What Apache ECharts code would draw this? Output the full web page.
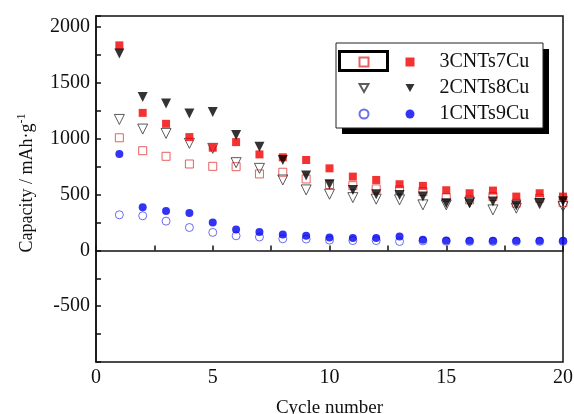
<!DOCTYPE html>
<html><head><meta charset="utf-8">
<script src="https://cdn.jsdelivr.net/npm/echarts@6/dist/echarts.min.js"></script>
<style>html,body{margin:0;padding:0;background:#fff}#c{width:574px;height:414px}</style>
</head><body><div id="c"></div>
<script>
const cycles = [1,2,3,4,5,6,7,8,9,10,11,12,13,14,15,16,17,18,19,20];
const seriesNames = ['3CNTs7Cu','2CNTs8Cu','1CNTs9Cu'];
// filled symbols
const cnt3Filled = [1837,1232,1134,1015,920,970,860,834,810,735,661,631,593,578,539,512,536,482,512,482];
const cnt2Filled = [1765,1375,1316,1227,1241,1033,929,810,670,593,542,503,497,482,423,423,438,402,423,440];
const cnt1Filled = [863,387,354,334,250,188,164,143,131,116,110,110,125,96,89,87,87,87,87,87];
// hollow symbols
const cnt3Hollow = [1009,893,843,774,753,750,685,700,640,590,580,551,542,527,473,453,482,423,467,430];
const cnt2Hollow = [1173,1087,1048,959,914,786,735,631,542,503,473,459,453,408,408,430,363,378,420,393];
const cnt1Hollow = [319,310,262,205,161,131,120,104,102,92,88,88,80,85,82,80,80,80,80,80];
const xTickLabels = [0,5,10,15,20];
const yTickLabels = [-500,0,500,1000,1500,2000];

const FONT = "'Liberation Serif','Times New Roman',serif";
const DOWN_TRI = 'path://M0,0 L10,0 L5,9 Z';
const pts = arr => cycles.map((c,i)=>[c, arr[i]]);
const hollowNames = seriesNames.map(n => n + ' (hollow)');
const legendItems = names => names.map((n,i) => i === 1 ? {name:n, icon:DOWN_TRI} : {name:n});

const chart = echarts.init(document.getElementById('c'), null, {renderer:'canvas'});
const hollow = (name, data, symbol, color, size, rot) => ({
  name, type:'scatter', data: pts(data), symbol, symbolSize: size, symbolRotate: rot||0,
  itemStyle:{color:'rgba(255,255,255,0)', borderColor:color, borderWidth:1}, z:2
});
const filled = (name, data, symbol, color, size, rot) => ({
  name, type:'scatter', data: pts(data), symbol, symbolSize: size, symbolRotate: rot||0,
  itemStyle:{color:color}, z:3
});

chart.setOption({
  animation:false,
  backgroundColor:'#fff',
  grid:{left:96, right:11, top:16, bottom:52, show:true, borderColor:'#111', borderWidth:1.5, backgroundColor:'transparent', outerBoundsMode:'none'},
  xAxis:{
    type:'value', min:0, max:20, interval:2.5,
    name:'Cycle number', nameLocation:'middle', nameGap:37,
    nameTextStyle:{fontFamily:FONT, fontSize:19, color:'#111'},
    axisLine:{show:true, lineStyle:{color:'#111', width:1.5}},
    axisTick:{show:true, inside:true, length:5, lineStyle:{color:'#111', width:1.5}},
    axisLabel:{fontFamily:FONT, fontSize:20, color:'#111', margin:6,
      formatter: v => xTickLabels.indexOf(v) >= 0 ? String(v) : ''},
    splitLine:{show:false}
  },
  yAxis:{
    type:'value', min:-1000, max:2100, interval:250,
    name:'{a|Capacity / mAh·g}{b|-1}', nameLocation:'middle', nameGap:58, nameRotate:90,
    nameTextStyle:{fontFamily:FONT, fontSize:18, color:'#111', padding:[0,0,0,12],
      rich:{a:{fontFamily:FONT, fontSize:18, color:'#111', lineHeight:22},
            b:{fontFamily:FONT, fontSize:12, color:'#111', verticalAlign:'top', lineHeight:22}}},
    axisLine:{show:true, lineStyle:{color:'#111', width:1.5}},
    axisTick:{show:true, inside:true, length:5, lineStyle:{color:'#111', width:1.5}},
    axisLabel:{fontFamily:FONT, fontSize:20, color:'#111', margin:6,
      formatter: v => yTickLabels.indexOf(v) >= 0 ? String(v) : ''},
    splitLine:{show:false}
  },
  legend:[
    {data: legendItems(hollowNames), orient:'vertical', left:358.5, top:52, padding:0, itemGap:6,
     itemWidth:9, itemHeight:9, selectedMode:false, z:10,
     formatter: () => ' ',
     textStyle:{fontFamily:FONT, fontSize:20, color:'rgba(0,0,0,0)'}},
    {data: legendItems(seriesNames), orient:'vertical', left:405.5, top:52, padding:0, itemGap:6,
     itemWidth:9, itemHeight:9, selectedMode:false, z:10,
     textStyle:{fontFamily:FONT, fontSize:20, color:'#111', padding:[0,0,0,20]}}
  ],
  graphic:[
    {type:'rect', z:5, shape:{x:342, y:49, width:207, height:85}, style:{fill:'#000'}},
    {type:'rect', z:6, shape:{x:336, y:43, width:207, height:85}, style:{fill:'#fff', stroke:'#222', lineWidth:1}},
    {type:'rect', z:7, shape:{x:339.5, y:51.5, width:48, height:19}, style:{fill:'none', stroke:'#000', lineWidth:3}}
  ],
  series:[
    hollow(hollowNames[0], cnt3Hollow, 'rect', '#e03a3a', 8),
    hollow(hollowNames[1], cnt2Hollow, 'triangle', '#333', 10, 180),
    hollow(hollowNames[2], cnt1Hollow, 'circle', '#4848e8', 8),
    filled(seriesNames[0], cnt3Filled, 'rect', '#f00000', 8),
    filled(seriesNames[1], cnt2Filled, 'triangle', '#000', 10, 180),
    filled(seriesNames[2], cnt1Filled, 'circle', '#0000f0', 8)
  ]
});
</script>
</body></html>
